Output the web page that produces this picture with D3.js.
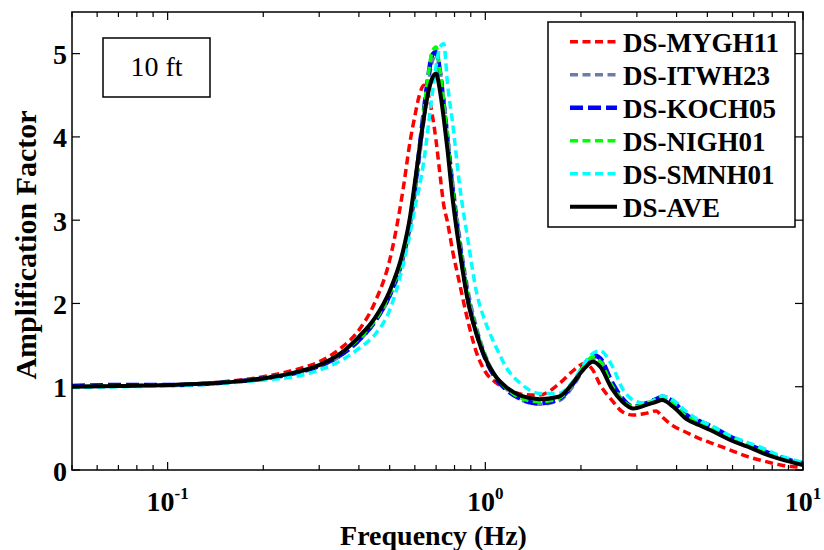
<!DOCTYPE html>
<html><head><meta charset="utf-8">
<script src="https://cdn.jsdelivr.net/npm/d3@7"></script>
<style>body{margin:0;background:#fff}svg{display:block}</style>
</head><body><div id="c"></div>
<script>
const freqs = [0.05,0.07,0.1,0.15,0.2,0.25,0.3,0.35,0.4,0.45,0.5,0.55,0.58,0.6,0.62,0.64,0.66,0.68,0.7,0.72,0.74,0.76,0.79,0.83,0.88,0.94,1.0,1.08,1.16,1.3,1.48,1.7,1.9,2.05,2.18,2.3,2.5,2.7,2.92,3.2,3.45,3.6,3.9,4.3,4.7,5.1,5.9,6.7,7.5,8.5,10];
const seriesNames = ["DS-MYGH11","DS-ITWH23","DS-KOCH05","DS-NIGH01","DS-SMNH01","DS-AVE"];
const MYGH11 = [1.00,1.01,1.02,1.06,1.12,1.20,1.30,1.46,1.68,2.02,2.52,3.35,3.95,4.25,4.50,4.62,4.52,4.28,3.95,3.55,3.18,2.98,2.62,2.24,1.80,1.40,1.18,1.05,0.98,0.91,0.90,1.03,1.20,1.28,1.20,1.02,0.84,0.70,0.66,0.68,0.71,0.64,0.53,0.45,0.38,0.33,0.24,0.16,0.11,0.06,0.03];
const ITWH23 = [1.00,1.01,1.02,1.05,1.09,1.16,1.24,1.37,1.55,1.78,2.08,2.52,2.92,3.30,3.74,4.18,4.60,4.90,4.98,4.80,4.45,4.05,3.45,2.80,2.18,1.70,1.38,1.12,0.98,0.84,0.79,0.83,1.02,1.22,1.34,1.32,1.04,0.84,0.75,0.78,0.83,0.86,0.80,0.65,0.58,0.52,0.40,0.31,0.23,0.15,0.07];
const KOCH05 = [1.01,1.02,1.02,1.05,1.10,1.16,1.25,1.38,1.56,1.79,2.10,2.56,2.98,3.38,3.84,4.30,4.70,4.98,5.02,4.78,4.38,3.96,3.34,2.70,2.08,1.64,1.34,1.10,0.97,0.85,0.80,0.85,1.05,1.26,1.38,1.34,1.06,0.86,0.76,0.80,0.85,0.88,0.82,0.66,0.59,0.53,0.40,0.31,0.23,0.15,0.08];
const NIGH01 = [1.00,1.01,1.02,1.05,1.10,1.17,1.26,1.40,1.58,1.80,2.12,2.58,3.00,3.40,3.85,4.30,4.72,5.02,5.08,4.80,4.40,3.98,3.35,2.72,2.10,1.66,1.36,1.12,0.99,0.86,0.82,0.86,1.06,1.26,1.36,1.30,1.02,0.84,0.76,0.80,0.85,0.88,0.80,0.64,0.57,0.51,0.39,0.30,0.22,0.15,0.07];
const SMNH01 = [0.99,1.00,1.01,1.04,1.08,1.12,1.20,1.31,1.46,1.63,1.92,2.45,2.85,3.15,3.40,3.70,4.10,4.50,4.85,5.08,5.12,4.65,4.15,3.42,2.78,2.12,1.78,1.48,1.24,1.03,0.92,0.92,1.08,1.28,1.40,1.43,1.26,0.98,0.84,0.80,0.85,0.89,0.84,0.70,0.60,0.54,0.41,0.33,0.26,0.17,0.09];
const AVE    = [1.00,1.01,1.02,1.05,1.10,1.17,1.26,1.40,1.60,1.83,2.15,2.62,3.05,3.45,3.85,4.22,4.52,4.70,4.76,4.55,4.22,3.85,3.24,2.64,2.04,1.62,1.34,1.12,1.00,0.89,0.85,0.88,1.06,1.22,1.30,1.24,0.98,0.82,0.74,0.78,0.82,0.84,0.76,0.61,0.54,0.48,0.36,0.28,0.20,0.13,0.06];
const yTicks = [0,1,2,3,4,5];
const xMajor = [0.1,1,10];
const xMajorLabels = [["10","-1"],["10","0"],["10","1"]];
const boxLabel = "10 ft";
const xTitle = "Frequency (Hz)";
const yTitle = "Amplification Factor";

const FONT = "'Liberation Serif','Times New Roman',Times,'DejaVu Serif',serif";
const W=824,H=550, L=72,R=803,T=12,B=470;
const svg=d3.select("#c").append("svg").attr("width",W).attr("height",H)
  .attr("font-family",FONT).style("font-family",FONT);
const x=d3.scaleLog().domain([0.05,10]).range([L,R]);
const y=d3.scaleLinear().domain([0,5.5]).range([B,T]);

const styles=[
 {c:"#ff0000",w:3.5,d:"8,4.5"},
 {c:"#6b7ea6",w:3.5,d:"8,4.5"},
 {c:"#0000ff",w:4.5,d:"13,5"},
 {c:"#00ff00",w:3.5,d:"8,4.5"},
 {c:"#00ffff",w:3.5,d:"8,4.5"},
 {c:"#000000",w:4,d:null}
];
const data=[MYGH11,ITWH23,KOCH05,NIGH01,SMNH01,AVE];

svg.append("clipPath").attr("id","clp").append("rect").attr("x",L).attr("y",T).attr("width",R-L).attr("height",B-T);
const line=d3.line().x((d,i)=>x(freqs[i])).y(d=>y(d)).curve(d3.curveMonotoneX);
const g=svg.append("g").attr("clip-path","url(#clp)");
data.forEach((s,k)=>{
  g.append("path").attr("d",line(s)).attr("fill","none").attr("stroke",styles[k].c)
   .attr("stroke-width",styles[k].w).attr("stroke-dasharray",styles[k].d).attr("stroke-linejoin","round");
});

const minor=[];
[0.01,0.1,1].forEach(b=>{for(let m=2;m<=9;m++){const v=b*m; if(v>=0.05&&v<=10) minor.push(v);}});
const ax=svg.append("g").attr("stroke","#000").attr("stroke-width",1.2);
minor.forEach(v=>{
  ax.append("line").attr("x1",x(v)).attr("x2",x(v)).attr("y1",B).attr("y2",B-5);
  ax.append("line").attr("x1",x(v)).attr("x2",x(v)).attr("y1",T).attr("y2",T+5);
});
xMajor.forEach(v=>{
  ax.append("line").attr("x1",x(v)).attr("x2",x(v)).attr("y1",B).attr("y2",B-8);
  ax.append("line").attr("x1",x(v)).attr("x2",x(v)).attr("y1",T).attr("y2",T+8);
});
yTicks.forEach(v=>{
  ax.append("line").attr("x1",L).attr("x2",L+8).attr("y1",y(v)).attr("y2",y(v));
  ax.append("line").attr("x1",R).attr("x2",R-8).attr("y1",y(v)).attr("y2",y(v));
});
svg.append("rect").attr("x",L).attr("y",T).attr("width",R-L).attr("height",B-T)
  .attr("fill","none").attr("stroke","#000").attr("stroke-width",1.5);

yTicks.forEach(v=>{
  svg.append("text").attr("x",L-5).attr("y",y(v)+10.5).attr("text-anchor","end")
   .attr("font-size",28).attr("font-weight","bold").text(v);
});
xMajor.forEach((v,i)=>{
  const t=svg.append("text").attr("x",x(v)).attr("y",511).attr("text-anchor","middle")
   .attr("font-size",28).attr("font-weight","bold");
  t.append("tspan").text(xMajorLabels[i][0]);
  t.append("tspan").attr("font-size",17).attr("dy",-12).text(xMajorLabels[i][1]);
});
svg.append("text").attr("x",(L+R)/2-4).attr("y",545).attr("text-anchor","middle")
  .attr("font-size",28).attr("font-weight","bold").text(xTitle);
svg.append("text").attr("transform",`translate(36,${(T+B)/2+4}) rotate(-90)`).attr("text-anchor","middle")
  .attr("font-size",30).attr("font-weight","bold").text(yTitle);

svg.append("rect").attr("x",103).attr("y",38).attr("width",107).attr("height",59)
  .attr("fill","#fff").attr("stroke","#000").attr("stroke-width",1.5);
svg.append("text").attr("x",156.5).attr("y",76).attr("text-anchor","middle").attr("font-size",28).text(boxLabel);

const lg=svg.append("g");
lg.append("rect").attr("x",548).attr("y",22).attr("width",247).attr("height",205)
  .attr("fill","#fff").attr("stroke","#000").attr("stroke-width",1.5);
seriesNames.forEach((n,k)=>{
  const yy=41.7+k*33;
  lg.append("line").attr("x1",570).attr("x2",617).attr("y1",yy).attr("y2",yy)
   .attr("stroke",styles[k].c).attr("stroke-width",styles[k].w).attr("stroke-dasharray",styles[k].d);
  lg.append("text").attr("x",623).attr("y",yy+10).attr("font-size",27).attr("font-weight","bold").text(n);
});
</script></body></html>
